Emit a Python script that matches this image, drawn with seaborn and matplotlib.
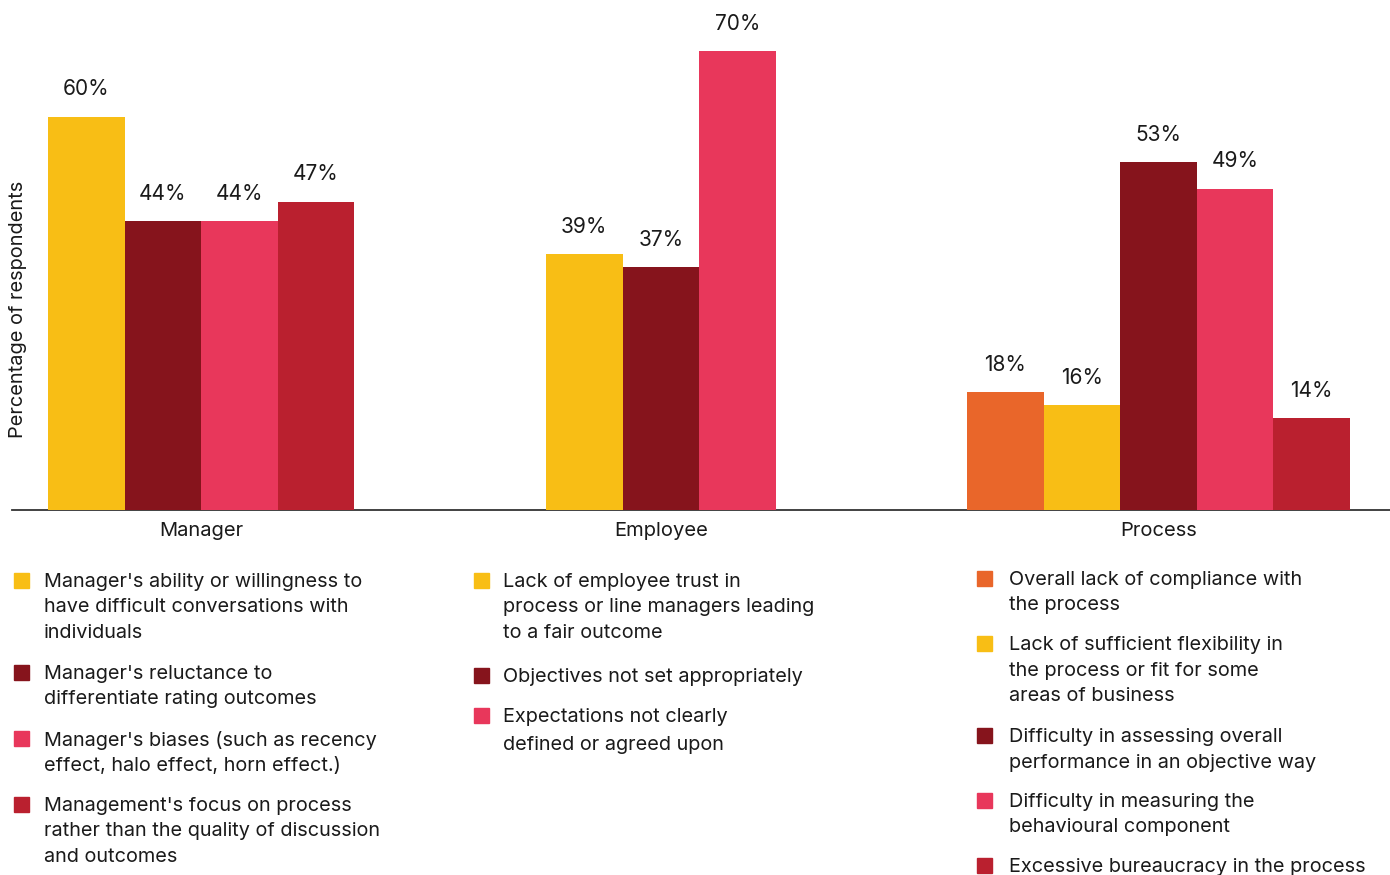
import matplotlib
matplotlib.use("Agg")
import matplotlib.pyplot as plt
from matplotlib.patches import Rectangle
import seaborn as sns
import pandas as pd

# ---------------- data ----------------
groups = ["Manager", "Employee", "Process"]
manager_values = [60, 44, 44, 47]
employee_values = [39, 37, 70]
process_values = [18, 16, 53, 49, 14]

manager_keys = ["yellow", "darkred", "pink", "crimson"]
employee_keys = ["yellow", "darkred", "pink"]
process_keys = ["orange", "yellow", "darkred", "pink", "crimson"]

manager_labels = [
    "Manager's ability or willingness to\nhave difficult conversations with\nindividuals",
    "Manager's reluctance to\ndifferentiate rating outcomes",
    "Manager's biases (such as recency\neffect, halo effect, horn effect.)",
    "Management's focus on process\nrather than the quality of discussion\nand outcomes",
]
employee_labels = [
    "Lack of employee trust in\nprocess or line managers leading\nto a fair outcome",
    "Objectives not set appropriately",
    "Expectations not clearly\ndefined or agreed upon",
]
process_labels = [
    "Overall lack of compliance with\nthe process",
    "Lack of sufficient flexibility in\nthe process or fit for some\nareas of business",
    "Difficulty in assessing overall\nperformance in an objective way",
    "Difficulty in measuring the\nbehavioural component",
    "Excessive bureaucracy in the process",
]

palette = {
    "yellow": "#F8BE15",
    "darkred": "#86141C",
    "pink": "#E8375B",
    "crimson": "#BA202F",
    "orange": "#E9662A",
}

# ---------------- layout ----------------
W, H = 1390, 875
unit = 76.6                      # px per bar width
ax_left_px, ax_right_px = 12, 1390
base_px, top_px = 510, 10
px_per_pct = 6.557
group_start = [0.47, 6.971, 12.467]   # left edge of first bar in each group (bar units)

sns.set_theme(style="white")
plt.rcParams["font.family"] = ["Inter", "DejaVu Sans"]
TXT = "#1a1a1a"

all_values = [manager_values, employee_values, process_values]
all_keys = [manager_keys, employee_keys, process_keys]
rows = []
for g, (vals, keys) in enumerate(zip(all_values, all_keys)):
    for i, (v, k) in enumerate(zip(vals, keys)):
        rows.append({"pos": round(group_start[g] + 0.5 + i, 4), "value": v, "key": k})
df = pd.DataFrame(rows)

fig = plt.figure(figsize=(W / 100, H / 100), dpi=100)
ax = fig.add_axes([ax_left_px / W, (H - base_px) / H,
                   (ax_right_px - ax_left_px) / W, (base_px - top_px) / H])

sns.barplot(data=df, x="pos", y="value", hue="key", palette=palette,
            native_scale=True, dodge=False, width=1.0, errorbar=None,
            legend=False, ax=ax, saturation=1, linewidth=0, zorder=3)

ax.set_xlim(0, (ax_right_px - ax_left_px) / unit)
ax.set_ylim(0, (base_px - top_px) / px_per_pct)

for c in ax.containers:
    ax.bar_label(c, labels=[f"{v:.0f}%" for v in c.datavalues],
                 padding=12.5, fontsize=15, color=TXT)

centers = [group_start[g] + len(v) / 2 for g, v in enumerate(all_values)]
ax.set_xticks(centers)
ax.set_xticklabels(groups, fontsize=14.5, color=TXT)
ax.tick_params(axis="x", length=0, pad=8.5)
ax.set_yticks([])
ax.set_xlabel("")
ax.set_ylabel("")
for s in ["top", "right", "left"]:
    ax.spines[s].set_visible(False)
ax.spines["bottom"].set_color("#333333")
ax.spines["bottom"].set_linewidth(1.3)

fig.text(18 / W, 1 - 309 / H, "Percentage of respondents", rotation=90,
         ha="center", va="center", fontsize=14.4, color=TXT)

# ---------------- legends ----------------
def draw_legend(x_marker, x_text, starts, labels, keys, steps):
    for y0, lab, k, step in zip(starts, labels, keys, steps):
        fig.patches.append(Rectangle((x_marker / W, 1 - (y0 + 8) / H), 15 / W, 15 / H,
                                     transform=fig.transFigure, color=palette[k]))
        for j, line in enumerate(lab.split("\n")):
            fig.text(x_text / W, 1 - (y0 + j * step) / H, line, ha="left",
                     va="center_baseline", fontsize=14.3, color=TXT)

draw_legend(14, 44, [580, 672, 738, 804], manager_labels, manager_keys, [25.5] * 4)
draw_legend(474, 503, [580, 675, 715], employee_labels, employee_keys, [25.5, 25.5, 28])
draw_legend(977, 1009, [578, 643, 735, 800, 865], process_labels, process_keys, [25.5] * 5)

fig.savefig("out.png", dpi=100)
